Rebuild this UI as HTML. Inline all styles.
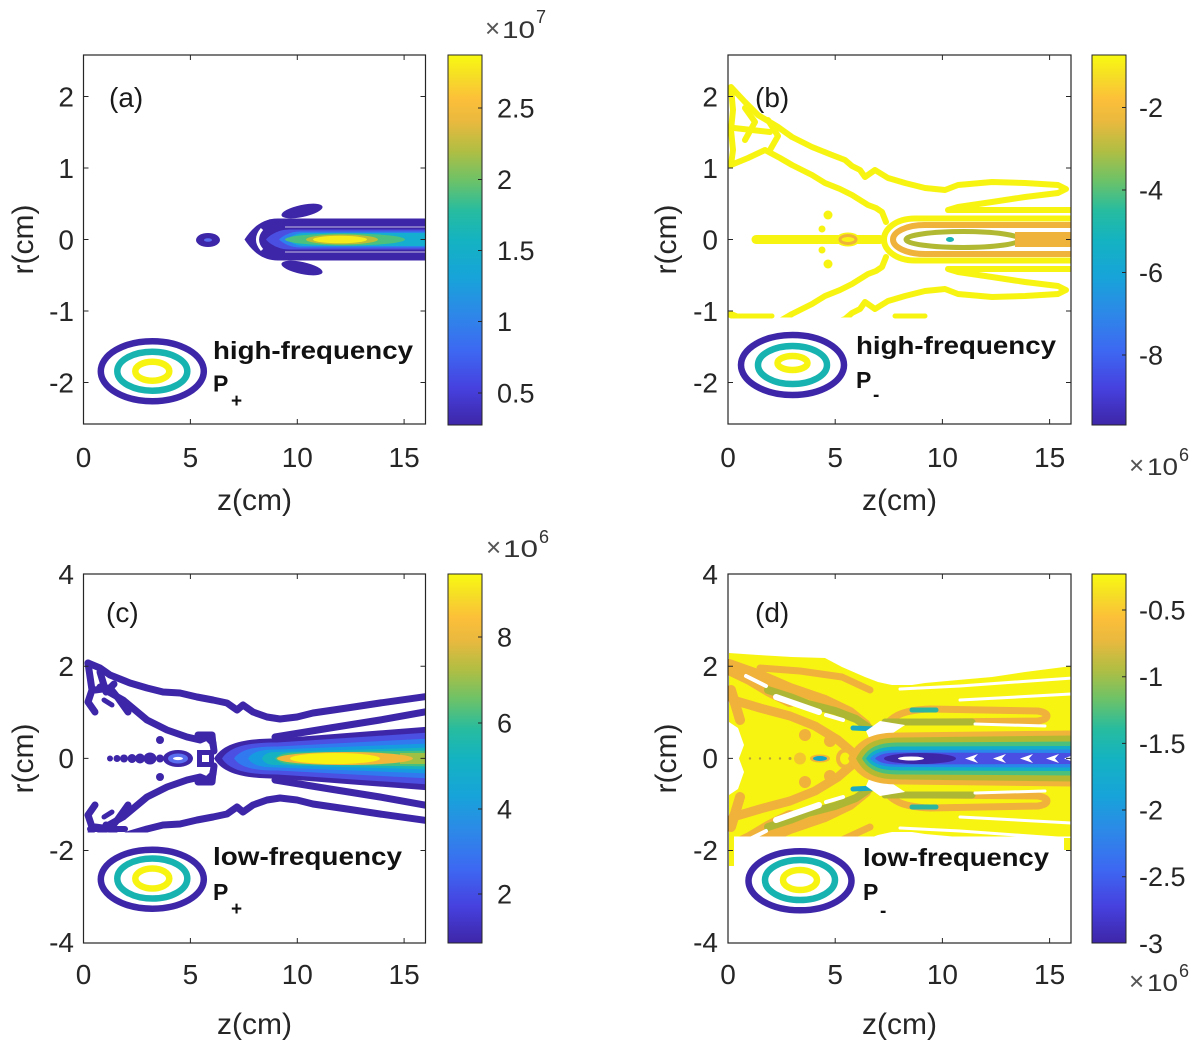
<!DOCTYPE html>
<html><head><meta charset="utf-8"><style>html,body{margin:0;padding:0;background:#fff}svg{display:block}</style></head>
<body>
<svg width="1200" height="1046" viewBox="0 0 1200 1046" xmlns="http://www.w3.org/2000/svg" font-family="'Liberation Sans', Arial, sans-serif">
<defs>
<clipPath id="cA"><rect x="83.5" y="55" width="342" height="369"/></clipPath>
<clipPath id="cB"><rect x="728" y="55" width="343" height="369"/></clipPath>
<clipPath id="cC"><rect x="83.5" y="574" width="342" height="369"/></clipPath>
<clipPath id="cD"><rect x="728" y="574" width="343" height="369"/></clipPath>
<clipPath id="cBl"><rect x="728" y="239.5" width="343" height="78"/></clipPath>
<clipPath id="cCl"><rect x="83.5" y="758.5" width="342" height="74"/></clipPath>
<clipPath id="cDl"><rect x="728" y="758.5" width="343" height="78"/></clipPath>
<linearGradient id="par" x1="0" y1="1" x2="0" y2="0">
<stop offset="0" stop-color="#3e26a8"/>
<stop offset="0.10" stop-color="#4641df"/>
<stop offset="0.20" stop-color="#3d68f2"/>
<stop offset="0.30" stop-color="#2d88e8"/>
<stop offset="0.40" stop-color="#17a4d9"/>
<stop offset="0.50" stop-color="#14b3c1"/>
<stop offset="0.58" stop-color="#27bc9f"/>
<stop offset="0.66" stop-color="#6cc268"/>
<stop offset="0.74" stop-color="#b0be43"/>
<stop offset="0.82" stop-color="#e9b93e"/>
<stop offset="0.88" stop-color="#fcbf3a"/>
<stop offset="0.94" stop-color="#f6dc27"/>
<stop offset="1" stop-color="#f9fa10"/>
</linearGradient>

<g id="fanB" fill="none" stroke="#f8f412" stroke-width="6" stroke-linejoin="round" stroke-linecap="round">
<path d="M731 87 L745 102 L758 115 L778 127 L792 137 L812 147 L832 155 L845 160 L852 166 L860 170 L865 177 L875 170 L888 178 L905 183 L925 188 L945 190 L958 185 L992 182 L1025 183 L1058 185 L1066 189 L1058 193 L1025 197 L992 202 L958 207 L948 210 L1075 210"/>
<path d="M731 88 L733 110 L731 130 L733 150 L731 165 L748 158 L765 150 L780 158 L792 165 L812 175 L825 183 L840 189 L852 195 L860 200 L868 205 L876 208 L882 212 L886 222"/>
<path d="M734 128 L752 130 L770 132"/>
<path d="M745 108 L755 122 L745 140"/>
<path d="M768 120 L778 136 L770 150"/>
<circle cx="828" cy="215" r="4.5" fill="#f8f412" stroke="none"/>
<circle cx="822" cy="229" r="3.5" fill="#f8f412" stroke="none"/>
</g>

<g id="fanC" fill="none" stroke="#3e26a8" stroke-width="7" stroke-linejoin="round" stroke-linecap="round">
<path d="M88 663 L100 668 L110 675 L130 683 L147 688 L163 692 L180 693 L197 697 L213 700 L227 703 L237 710 L243 705 L253 712 L267 717 L280 719 L297 717 L313 713 L347 708 L380 703 L430 696"/>
<path d="M275 737 L330 728 L380 720 L430 711"/>
<path d="M100 687 L123 700 L147 720 L167 730 L187 737 L200 740 L207 737 L213 743 L214 751"/>
<path d="M198 735 L212 735 L213 745"/>
<path d="M88 663 L92 690 L88 702 L95 712"/>
<path d="M95 690 L110 688 L118 698 L128 712"/>
<path d="M100 672 L106 692 L114 684"/>
<path d="M104 700 L112 705" stroke-width="5"/>
<circle cx="160" cy="740" r="4" fill="#3e26a8" stroke="none"/>
</g>

<g id="fanD">
<path d="M729 653 L758 655 L792 657 L825 658 L842 667 L865 677 L878 682 L892 685 L912 685 L925 683 L958 680 L992 677 L1025 672 L1072 666 L1072 760 L729 760 Z" fill="#f8f412"/>
<g fill="none" stroke-linecap="round" stroke-linejoin="round">
<path d="M729 668 L750 678 L770 690 L790 700" stroke="#f0b23a" stroke-width="14"/>
<path d="M729 664 L760 675 L790 688 L825 700 L850 712 L866 725" stroke="#f0b23a" stroke-width="10"/>
<path d="M733 700 L760 708 L790 716 L815 726 L838 740 L852 752" stroke="#f0b23a" stroke-width="9"/>
<path d="M731 690 L740 720" stroke="#f0b23a" stroke-width="10"/>
<path d="M760 668 L800 671 L842 677 L870 690" stroke="#f0b23a" stroke-width="7"/>
<path d="M885 726 C893 715 905 710 930 709 L1038 711 C1050 713 1050 719 1038 721 L930 722" stroke="#f0b23a" stroke-width="7"/>
<path d="M768 690 L790 697 L808 704 L835 711 L856 719 L872 730" stroke="#aeb733" stroke-width="8"/>
<path d="M885 722 L972 722" stroke="#aeb733" stroke-width="7"/>
<path d="M853 728 L876 729" stroke="#1aa9c2" stroke-width="5"/>
<path d="M912 710 L936 710" stroke="#2bb5a0" stroke-width="5"/>
</g>
<circle cx="805" cy="735" r="6" fill="#f0b23a"/>
<circle cx="830" cy="741" r="6" fill="#f0b23a"/>
<g stroke="#fff" stroke-linecap="round" fill="none">
<path d="M746 676 L766 686" stroke-width="4"/>
<path d="M776 697 L819 712" stroke-width="6"/>
<path d="M826 715 L843 720" stroke-width="4"/>
<path d="M900 689 L960 686 L1072 678" stroke-width="3"/>
<path d="M960 700 L1072 694" stroke-width="3"/>
<path d="M975 724 L1045 726" stroke-width="3"/>
</g>
<path d="M866 731 L880 721 L905 725 L890 735 L872 745 Z" fill="#fff"/>
</g>
</defs>

<rect width="1200" height="1046" fill="#fff"/>

<!-- ===== Panel (a) ===== -->
<g clip-path="url(#cA)">
<ellipse cx="208" cy="240" rx="12" ry="7" fill="#3e26a8"/>
<ellipse cx="208" cy="240" rx="4" ry="1.8" fill="#5a6cf0"/>
<ellipse cx="302" cy="211" rx="21" ry="6" transform="rotate(-12 302 211)" fill="#3e26a8"/>
<ellipse cx="302" cy="268" rx="21" ry="6" transform="rotate(12 302 268)" fill="#3e26a8"/>
<path d="M430 218.5 L278 218.5 C262 218.5 252 228 244.5 239.5 C252 251 262 260.5 278 260.5 L430 260.5 Z" fill="#3e26a8"/>
<path d="M262 229 Q253 239.5 262 250" stroke="#fff" stroke-width="3" fill="none"/>
<path d="M430 227 L285 227 M430 252 L285 252" stroke="#fff" stroke-width="1" opacity="0.7"/>
<path d="M430 229.5 L290 229.5 C278 229.5 270 235 266 239.5 C270 244 278 249.5 290 249.5 L430 249.5 Z" fill="#4a4fe2"/>
<path d="M430 231.5 L300 231.5 C290 231.5 283 236 279 239.5 C283 243 290 247.5 300 247.5 L430 247.5 Z" fill="#2e80ee"/>
<path d="M430 233 L305 233 C296 233 290 237 286 239.5 C290 242 296 246 305 246 L430 246 Z" fill="#16aed0"/>
<ellipse cx="345" cy="239.5" rx="60" ry="6" fill="#4cc07e"/>
<ellipse cx="342" cy="239.5" rx="36" ry="5" fill="#bcbd38"/>
<ellipse cx="340" cy="239.5" rx="27" ry="3.8" fill="#f6ec1c"/>
</g>
<g fill="none" stroke-width="6.5">
<ellipse cx="152.3" cy="371.2" rx="51.5" ry="30" stroke="#3e26a8"/>
<ellipse cx="152.3" cy="371.2" rx="35" ry="19.5" stroke="#17b3b0"/>
<ellipse cx="152.3" cy="371.2" rx="17" ry="9.5" stroke="#f8f412"/>
</g>
<text x="213" y="359" font-size="25" font-weight="bold" fill="#111" textLength="200" lengthAdjust="spacingAndGlyphs">high-frequency</text>
<text x="213" y="391.5" font-size="23" font-weight="bold" fill="#111">P</text>
<text x="231" y="407" font-size="19" font-weight="bold" fill="#111">+</text>

<!-- ===== Panel (b) ===== -->
<g clip-path="url(#cB)">
<use href="#fanB"/>
<g clip-path="url(#cBl)"><use href="#fanB" transform="matrix(1 0 0 -1 0 479)"/></g>
<path d="M731 316 L772 316 M895 316 L925 316" stroke="#f8f412" stroke-width="5" stroke-linecap="round"/>
<path d="M756 239.5 L880 239.5" stroke="#f8f412" stroke-width="9" stroke-linecap="round"/>
<ellipse cx="848" cy="239.5" rx="12" ry="7" fill="#f8f412"/>
<ellipse cx="848" cy="239.5" rx="8" ry="4" fill="none" stroke="#efb23b" stroke-width="3"/>
<g fill="none" stroke-width="6">
<path d="M1075 218.5 L915 218.5 C896 218.5 884 229 884 239.5 C884 250 896 260.5 915 260.5 L1075 260.5" stroke="#f8f412"/>
<path d="M1075 225 L925 225 C906 225 893 232 893 239.5 C893 247 906 254 925 254 L1075 254" stroke="#efb23b"/>
</g>
<ellipse cx="963" cy="239.5" rx="57" ry="8" stroke="#b1b832" stroke-width="5" fill="none"/>
<rect x="1015" y="232" width="60" height="15" fill="#efb23b"/>
<ellipse cx="950" cy="239.5" rx="4" ry="2.5" fill="#19b3b3"/>
</g>
<g fill="none" stroke-width="6.5">
<ellipse cx="792.5" cy="365" rx="51.5" ry="30" stroke="#3e26a8"/>
<ellipse cx="792.5" cy="365" rx="34.5" ry="19" stroke="#17b3b0"/>
<ellipse cx="792.5" cy="363" rx="15" ry="7" stroke="#f8f412"/>
</g>
<text x="856" y="354" font-size="25" font-weight="bold" fill="#111" textLength="200" lengthAdjust="spacingAndGlyphs">high-frequency</text>
<text x="856" y="388" font-size="23" font-weight="bold" fill="#111">P</text>
<text x="873" y="401" font-size="19" font-weight="bold" fill="#111">-</text>

<!-- ===== Panel (c) ===== -->
<g clip-path="url(#cC)">
<use href="#fanC"/>
<g clip-path="url(#cCl)"><use href="#fanC" transform="matrix(1 0 0 -1 0 1517)"/></g>
<path d="M90 829 L125 829" stroke="#3e26a8" stroke-width="6" stroke-linecap="round"/>
<path d="M214 758.5 C223.5 742.5 245.5 738.5 277 738.5 L430 726.5 L430 790.5 L277 778.5 C245.5 778.5 223.5 774.5 214 758.5 Z" fill="#3e26a8"/>
<path d="M222 758.5 C230.3 745.7 249.5 742.5 277 742.5 L430 732.5 L430 784.5 L277 774.5 C249.5 774.5 230.3 771.3 222 758.5 Z" fill="#4b4fe2"/>
<path d="M234 758.5 C240.5 748.9 255.5 746.5 277 746.5 L430 738.5 L430 778.5 L277 770.5 C255.5 770.5 240.5 768.1 234 758.5 Z" fill="#3079ef"/>
<path d="M248 758.5 C252.4 751.3 262.5 749.5 277 749.5 L430 743.5 L430 773.5 L277 767.5 C262.5 767.5 252.4 765.7 248 758.5 Z" fill="#179be0"/>
<path d="M262 758.5 C264.3 753.3 269.5 752 277 752 L430 747.5 L430 769.5 L277 765 C269.5 765 264.3 763.7 262 758.5 Z" fill="#15b2c2"/>
<path d="M275 758.5 C280 753 290 752.5 300 752.5 L430 750.5 L430 766.5 L300 764.5 C290 764.5 280 764 275 758.5 Z" fill="#46c07f"/>
<rect x="400" y="753" width="30" height="11" fill="#9ec145"/>
<ellipse cx="345" cy="758.5" rx="68" ry="6.5" fill="#f2b63a"/>
<ellipse cx="335" cy="758.5" rx="45" ry="5.5" fill="#f8f312"/>
<g fill="#3e26a8">
<circle cx="110" cy="758.5" r="3"/>
<circle cx="117" cy="758.5" r="3.5"/>
<circle cx="124" cy="758.5" r="4"/>
<circle cx="132" cy="758.5" r="4.5"/>
<circle cx="140" cy="758.5" r="5"/>
<ellipse cx="150" cy="758.5" rx="6.5" ry="6"/>
<ellipse cx="160" cy="758.5" rx="4" ry="4"/>
<ellipse cx="178" cy="758.5" rx="15" ry="8.5"/>
<rect x="197" y="750" width="17" height="17"/>
</g>
<ellipse cx="178" cy="758.5" rx="10" ry="5" fill="#5a6ef0"/>
<ellipse cx="178" cy="758.5" rx="5" ry="1.6" fill="#fff"/>
<rect x="202" y="755" width="7" height="7" fill="#fff"/>
</g>
<g fill="none" stroke-width="6.5">
<ellipse cx="152.3" cy="879.2" rx="51.5" ry="29.5" stroke="#3e26a8"/>
<ellipse cx="152.3" cy="878.5" rx="35" ry="20" stroke="#17b3b0"/>
<ellipse cx="152.3" cy="878.5" rx="17" ry="10" stroke="#f8f412"/>
</g>
<text x="213" y="865" font-size="25" font-weight="bold" fill="#111" textLength="189" lengthAdjust="spacingAndGlyphs">low-frequency</text>
<text x="213" y="900" font-size="23" font-weight="bold" fill="#111">P</text>
<text x="231" y="915" font-size="19" font-weight="bold" fill="#111">+</text>

<!-- ===== Panel (d) ===== -->
<g clip-path="url(#cD)">
<use href="#fanD"/>
<g clip-path="url(#cDl)"><use href="#fanD" transform="matrix(1 0 0 -1 0 1517)"/></g>
<rect x="729" y="836" width="5" height="30" fill="#f8f412"/>
<rect x="1064" y="838" width="7" height="12" fill="#f8f412"/>
<path d="M729 722 L738 728 L744 745 L739 758.5 L744 772 L738 789 L729 795 Z" fill="#fff"/>
<g fill="#b8a040"><circle cx="750" cy="758.5" r="1.2"/><circle cx="760" cy="758.5" r="1.2"/><circle cx="770" cy="758.5" r="1.2"/><circle cx="780" cy="758.5" r="1.2"/><circle cx="790" cy="758.5" r="1.5"/></g>
<circle cx="800" cy="758.5" r="6" fill="#f3c62f"/>
<ellipse cx="820" cy="758.5" rx="10" ry="4" fill="#f0b43a"/>
<ellipse cx="820" cy="758.5" rx="7" ry="2.5" fill="#14a6c8"/>
<ellipse cx="845" cy="758.5" rx="9" ry="10" fill="#f0b43a"/>
<ellipse cx="845" cy="758.5" rx="5" ry="6" fill="#f8f412"/>
<path d="M848 758.5 C858.4 736.4 876.6 732.5 900 732.5 L1072 730.5 L1072 786.5 L900 784.5 C876.6 784.5 858.4 780.6 848 758.5 Z" fill="#f0b43a"/>
<path d="M856 758.5 C864.8 740.65 880.2 737.5 900 737.5 L1072 735.5 L1072 781.5 L900 779.5 C880.2 779.5 864.8 776.35 856 758.5 Z" fill="#b3ba32"/>
<path d="M862 758.5 C869.6 744.9 882.9 742.5 900 742.5 L1072 741.5 L1072 775.5 L900 774.5 C882.9 774.5 869.6 772.1 862 758.5 Z" fill="#4bc07d"/>
<path d="M866 758.5 C872.8 748.3 884.7 746.5 900 746.5 L1072 746 L1072 771 L900 770.5 C884.7 770.5 872.8 768.7 866 758.5 Z" fill="#13adc9"/>
<path d="M870 758.5 C876 751.3 886.5 750 900 750 L1072 749.5 L1072 767.5 L900 767 C886.5 767 876 765.7 870 758.5 Z" fill="#2a86ea"/>
<path d="M875 758.5 C880 753.4 888.75 752.5 900 752.5 L1072 753 L1072 764 L900 764.5 C888.75 764.5 880 763.6 875 758.5 Z" fill="#4a4ee2"/>
<ellipse cx="920" cy="758.5" rx="36" ry="5.5" fill="#3e26a8"/>
<ellipse cx="911" cy="758.5" rx="13" ry="2" fill="#fff"/>
<g fill="#fff">
<polygon points="965,758.5 978,754 974,758.5 978,763"/>
<polygon points="993,758.5 1006,754 1002,758.5 1006,763"/>
<polygon points="1020,758.5 1033,754 1029,758.5 1033,763"/>
<polygon points="1046,758.5 1059,754 1055,758.5 1059,763"/>
<polygon points="1064,758.5 1072,755.5 1070,758.5 1072,761.5"/>
</g>
</g>
<g fill="none" stroke-width="6.5">
<ellipse cx="800" cy="880.8" rx="51.5" ry="29.5" stroke="#3e26a8"/>
<ellipse cx="800" cy="880" rx="35" ry="20" stroke="#17b3b0"/>
<ellipse cx="800" cy="880" rx="17" ry="10" stroke="#f8f412"/>
</g>
<text x="863" y="866" font-size="25" font-weight="bold" fill="#111" textLength="186" lengthAdjust="spacingAndGlyphs">low-frequency</text>
<text x="863" y="900" font-size="23" font-weight="bold" fill="#111">P</text>
<text x="880" y="917" font-size="19" font-weight="bold" fill="#111">-</text>

<!-- ===== Axes boxes & ticks ===== -->
<g fill="none" stroke="#262626" stroke-width="1.2">
<rect x="83.5" y="55" width="342" height="369"/>
<rect x="728" y="55" width="343" height="369"/>
<rect x="83.5" y="574" width="342" height="369"/>
<rect x="728" y="574" width="343" height="369"/>
</g>
<g stroke="#262626" stroke-width="1">
<path d="M190.4 424 v-5 M297.3 424 v-5 M404.1 424 v-5 M190.4 55 v5 M297.3 55 v5 M404.1 55 v5 M83.5 96.5 h5 M83.5 168 h5 M83.5 239.5 h5 M83.5 311 h5 M83.5 382.5 h5 M425.5 96.5 h-5 M425.5 168 h-5 M425.5 239.5 h-5 M425.5 311 h-5 M425.5 382.5 h-5"/>
<path d="M835.2 424 v-5 M942.4 424 v-5 M1049.6 424 v-5 M835.2 55 v5 M942.4 55 v5 M1049.6 55 v5 M728 96.5 h5 M728 168 h5 M728 239.5 h5 M728 311 h5 M728 382.5 h5 M1071 96.5 h-5 M1071 168 h-5 M1071 239.5 h-5 M1071 311 h-5 M1071 382.5 h-5"/>
<path d="M190.4 943 v-5 M297.3 943 v-5 M404.1 943 v-5 M190.4 574 v5 M297.3 574 v5 M404.1 574 v5 M83.5 666.2 h5 M83.5 758.4 h5 M83.5 850.5 h5 M425.5 666.2 h-5 M425.5 758.4 h-5 M425.5 850.5 h-5"/>
<path d="M835.2 943 v-5 M942.4 943 v-5 M1049.6 943 v-5 M835.2 574 v5 M942.4 574 v5 M1049.6 574 v5 M728 666.2 h5 M728 758.4 h5 M728 850.5 h5 M1071 666.2 h-5 M1071 758.4 h-5 M1071 850.5 h-5"/>
</g>

<!-- ===== Colorbars ===== -->
<rect x="448" y="55" width="34" height="370" fill="url(#par)" stroke="#262626" stroke-width="1"/>
<rect x="1092" y="55" width="34" height="370" fill="url(#par)" stroke="#262626" stroke-width="1"/>
<rect x="448" y="574" width="34" height="369" fill="url(#par)" stroke="#262626" stroke-width="1"/>
<rect x="1092" y="574" width="34" height="369" fill="url(#par)" stroke="#262626" stroke-width="1"/>
<g stroke="#262626" stroke-width="1">
<path d="M482 108 h-4 M482 179.5 h-4 M482 250.5 h-4 M482 321.5 h-4 M482 393 h-4"/>
<path d="M1126 107.5 h-4 M1126 190 h-4 M1126 272.5 h-4 M1126 355 h-4"/>
<path d="M482 637 h-4 M482 723 h-4 M482 809 h-4 M482 894 h-4"/>
<path d="M1126 610 h-4 M1126 676.7 h-4 M1126 743.4 h-4 M1126 810 h-4 M1126 876.7 h-4"/>
</g>

<!-- ===== Text ===== -->
<g font-size="28" fill="#262626">
<g text-anchor="middle">
<text x="83.5" y="467">0</text><text x="190.4" y="467">5</text><text x="297.3" y="467">10</text><text x="404.1" y="467">15</text>
<text x="728" y="467">0</text><text x="835.2" y="467">5</text><text x="942.4" y="467">10</text><text x="1049.6" y="467">15</text>
<text x="83.5" y="984">0</text><text x="190.4" y="984">5</text><text x="297.3" y="984">10</text><text x="404.1" y="984">15</text>
<text x="728" y="984">0</text><text x="835.2" y="984">5</text><text x="942.4" y="984">10</text><text x="1049.6" y="984">15</text>
</g>
<g text-anchor="end">
<text x="74" y="106.5">2</text><text x="74" y="178">1</text><text x="74" y="249.5">0</text><text x="74" y="321">-1</text><text x="74" y="392.5">-2</text>
<text x="718" y="106.5">2</text><text x="718" y="178">1</text><text x="718" y="249.5">0</text><text x="718" y="321">-1</text><text x="718" y="392.5">-2</text>
<text x="74" y="584">4</text><text x="74" y="676">2</text><text x="74" y="768">0</text><text x="74" y="860">-2</text><text x="74" y="952">-4</text>
<text x="718" y="584">4</text><text x="718" y="676">2</text><text x="718" y="768">0</text><text x="718" y="860">-2</text><text x="718" y="952">-4</text>
</g>
</g>
<g font-size="27" fill="#262626">
<text x="497" y="117.5">2.5</text><text x="497" y="189">2</text><text x="497" y="260">1.5</text><text x="497" y="331">1</text><text x="497" y="402.5">0.5</text>
<text x="1139" y="117">-2</text><text x="1139" y="199.5">-4</text><text x="1139" y="282">-6</text><text x="1139" y="364.5">-8</text>
<text x="497" y="646.5">8</text><text x="497" y="732.5">6</text><text x="497" y="818.5">4</text><text x="497" y="903.5">2</text>
<text x="1139" y="619.5">-0.5</text><text x="1139" y="686">-1</text><text x="1139" y="753">-1.5</text><text x="1139" y="819.5">-2</text><text x="1139" y="886">-2.5</text><text x="1139" y="953">-3</text>
</g>
<g fill="#333">
<text x="485" y="37" font-size="26" fill="#555">×</text><text x="502" y="38" font-size="24" textLength="33" lengthAdjust="spacingAndGlyphs">10</text><text x="536" y="23" font-size="18">7</text>
<text x="486" y="556" font-size="26" fill="#555">×</text><text x="503" y="557" font-size="24" textLength="35" lengthAdjust="spacingAndGlyphs">10</text><text x="539" y="543" font-size="18">6</text>
<text x="1129" y="474" font-size="26" fill="#555">×</text><text x="1147" y="475" font-size="24" textLength="31" lengthAdjust="spacingAndGlyphs">10</text><text x="1179" y="461" font-size="18">6</text>
<text x="1129" y="990" font-size="26" fill="#555">×</text><text x="1147" y="991" font-size="24" textLength="31" lengthAdjust="spacingAndGlyphs">10</text><text x="1179" y="977" font-size="18">6</text>
</g>
<g font-size="30" fill="#262626" text-anchor="middle">
<text x="254.5" y="510">z(cm)</text>
<text x="899.5" y="510">z(cm)</text>
<text x="254.5" y="1034">z(cm)</text>
<text x="899.5" y="1034">z(cm)</text>
<text transform="translate(33,239.5) rotate(-90)">r(cm)</text>
<text transform="translate(676,239.5) rotate(-90)">r(cm)</text>
<text transform="translate(33,758.5) rotate(-90)">r(cm)</text>
<text transform="translate(676,758.5) rotate(-90)">r(cm)</text>
</g>
<g font-size="28" fill="#1a1a1a">
<text x="109" y="107">(a)</text>
<text x="755" y="107">(b)</text>
<text x="106" y="622">(c)</text>
<text x="755" y="622">(d)</text>
</g>
</svg>
</body></html>
